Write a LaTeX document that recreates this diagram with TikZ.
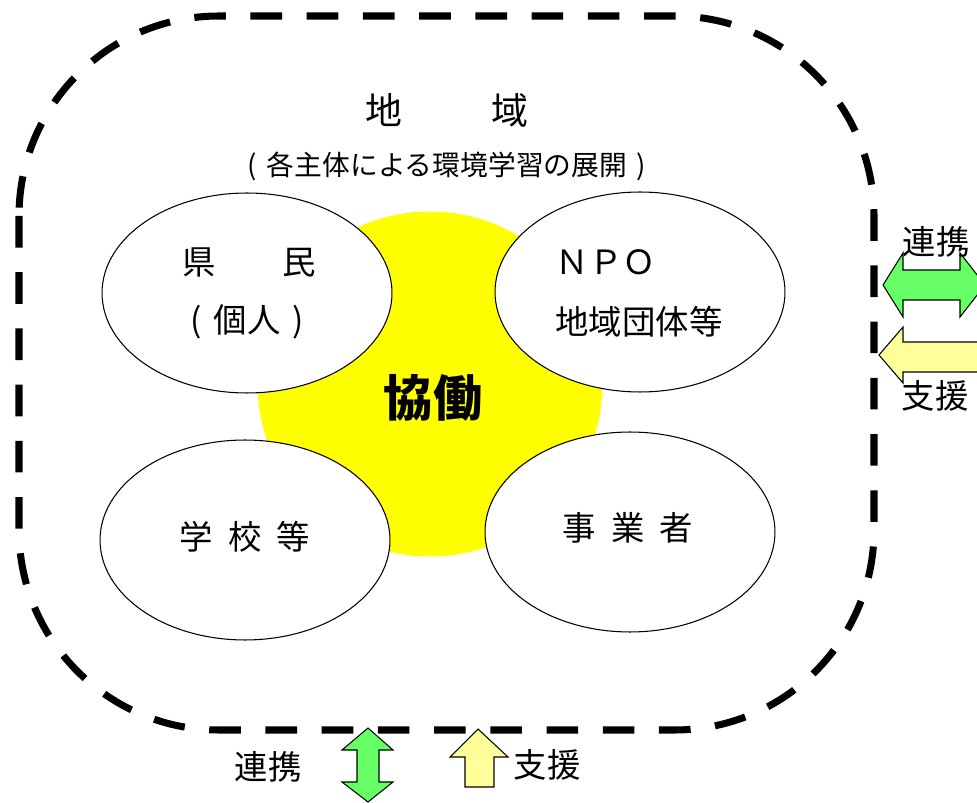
\documentclass[tikz,border=0pt]{standalone}
\usepackage{fontspec}
\setmainfont{Noto Sans CJK JP}
\usetikzlibrary{shapes.geometric}
\definecolor{vert}{HTML}{66FF66}
\definecolor{jaunepale}{HTML}{FFFF99}
\definecolor{jaune}{RGB}{255,255,0}
\begin{document}
\begin{tikzpicture}[x=0.02cm, y=-0.02cm]
\tikzset{bulle/.style={draw, ellipse, fill=white, line width=0.6pt, inner sep=0pt, minimum width=5.8cm, minimum height=4cm},
texte/.style={inner sep=0pt, font=\fontsize{19pt}{23pt}\selectfont},
fleche/.style={draw, line width=0.6pt, line join=miter}}
\useasboundingbox (0,0) rectangle (977,803);
\clip (0,0) rectangle (977,803);
% le cadre du territoire
\draw[line width=4pt, dash pattern=on 18pt off 14pt, rounded corners=4cm] (19,16) rectangle (874,730);
\node[texte, font=\fontsize{21pt}{25pt}\selectfont] (T1) at (447,110) {地\hspace{2.4em}域};
\node[texte, font=\fontsize{15.8pt}{19pt}\selectfont] (T2) at (447,166) {(\hspace{0.35em}各主体による環境学習の展開\hspace{0.35em})};
% le cercle central
\node[circle, fill=jaune, inner sep=0pt, minimum size=6.9cm] (C) at (430,384) {};
\node[bulle] (E1) at (247,293) {};
\node[bulle] (E2) at (640,292) {};
\node[bulle] (E3) at (245,540) {};
\node[bulle] (E4) at (630,532) {};
\node[texte, font=\fontsize{28pt}{30pt}\selectfont\bfseries] (K) at (433,398) {協働};
\node[texte] (A1) at (249,262) {県　　民};
\node[texte] (A2) at (247,322) {(\hspace{0.35em}個人\hspace{0.35em})};
\node[texte] (B1) at (606,262) {ＮＰＯ};
\node[texte] (B2) at (639,322) {地域団体等};
\node[texte] (D1) at (245,537) {学\hspace{0.45em}校\hspace{0.45em}等};
\node[texte] (F1) at (628,528) {事\hspace{0.45em}業\hspace{0.45em}者};
% les fleches
\draw[fleche, fill=vert] (883,285) -- (903,253) -- (903,270) -- (960,270) -- (960,253) -- (985,285) -- (960,317) -- (960,300) -- (903,300) -- (903,317) -- cycle;
\draw[fleche, fill=jaunepale] (879,355) -- (903,327) -- (903,342) -- (990,342) -- (990,372) -- (903,372) -- (903,383) -- cycle;
\draw[fleche, fill=vert] (368,728) -- (393,750) -- (379,750) -- (379,782) -- (393,782) -- (368,802) -- (342,782) -- (357,782) -- (357,750) -- (342,750) -- cycle;
\draw[fleche, fill=jaunepale] (478,729) -- (508,757) -- (494,757) -- (494,787) -- (465,787) -- (465,757) -- (450,757) -- cycle;
\node[texte] (R1) at (936,242) {連携};
\node[texte] (R2) at (935,396) {支援};
\node[texte] (R3) at (268,767) {連携};
\node[texte] (R4) at (547,765) {支援};
\end{tikzpicture}
\end{document}
